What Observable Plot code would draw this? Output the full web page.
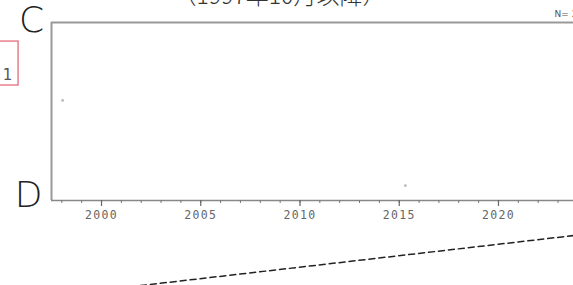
<!DOCTYPE html>
<html>
<head>
<meta charset="utf-8">
<script src="https://cdn.jsdelivr.net/npm/d3@7"></script>
<script src="https://cdn.jsdelivr.net/npm/@observablehq/plot@0.6"></script>
<style>
  html, body { margin: 0; padding: 0; background: #fff; overflow: hidden; }
  #chart svg { display: block; }
  #chart svg g[aria-label="x-axis tick label"] text { letter-spacing: 1.3px; }
</style>
</head>
<body>
<div id="chart"></div>
<script>
// ---- data ----
const titleText = "（1997年10月以降）";
const countText = "N= 25";
const topLabel = "C";
const bottomLabel = "D";
const boxLabel = "1";

const xDomain = [1997.48, 2023.78];
const yDomain = [0, 100];

const majorYears = [2000, 2005, 2010, 2015, 2020];
const minorYears = [1998, 1999, 2000, 2001, 2002, 2003, 2004, 2005, 2006, 2007, 2008, 2009, 2010, 2011, 2012, 2013, 2014, 2015, 2016, 2017, 2018, 2019, 2020, 2021, 2022, 2023];

const pointYears = [1998.04, 2015.31];
const pointValues = [56.2, 8.4];

const leaderYears = [2001.96, 2023.78];
const leaderValues = [-47.8, -19.7];

const boxYears = [1994.6, 1995.82];
const boxValues = [64.6, 89.3];

const points = pointYears.map((x, i) => ({x, y: pointValues[i]}));
const leader = leaderYears.map((x, i) => ({x, y: leaderValues[i]}));
const box = [{x1: boxYears[0], x2: boxYears[1], y1: boxValues[0], y2: boxValues[1]}];

const chart = Plot.plot({
  width: 573,
  height: 285,
  marginLeft: 51,
  marginRight: 0,
  marginTop: 22,
  marginBottom: 85,
  style: {background: "#fff", overflow: "hidden"},
  x: {domain: xDomain, axis: null},
  y: {domain: yDomain, axis: null},
  marks: [
    // frame lines
    Plot.ruleX([xDomain[0]], {y1: yDomain[0], y2: yDomain[1], stroke: "#999", strokeWidth: 2}),
    Plot.ruleY([yDomain[1]], {stroke: "#999", strokeWidth: 2}),
    Plot.ruleY([yDomain[0]], {stroke: "#888", strokeWidth: 1.5}),
    // minor ticks
    Plot.axisX(minorYears, {tickSize: 3, tickFormat: () => "", stroke: "#777", strokeWidth: 1}),
    // major ticks + labels
    Plot.axisX(majorYears, {
      tickSize: 6, tickPadding: 4, stroke: "#666", strokeWidth: 1.2,
      tickFormat: d => String(d), fill: "#666",
      fontSize: 11.5, fontFamily: "DejaVu Sans Mono"
    }),
    // data points
    Plot.dot(points, {x: "x", y: "y", r: 1.4, fill: "#b8b8b8", stroke: null}),
    // leader dashed line
    Plot.line(leader, {x: "x", y: "y", stroke: "#222", strokeWidth: 1.5, strokeDasharray: "6,4", clip: false}),
    // red box
    Plot.rect(box, {x1: "x1", x2: "x2", y1: "y1", y2: "y2", fill: "none", stroke: "#e06070", strokeWidth: 1.2, clip: false}),
    Plot.text([boxLabel], {x: () => boxYears[1], y: () => boxValues[0], dx: -11, dy: -10, text: d => d, textAnchor: "middle", lineAnchor: "middle", fill: "#555", fontSize: 15, fontFamily: "DejaVu Sans"}),
    // C and D labels
    Plot.text([topLabel], {frameAnchor: "top-left", dx: -20, dy: -2, text: d => d, textAnchor: "middle", lineAnchor: "middle", fontSize: 36, fontWeight: 200, fontFamily: "DejaVu Sans", fill: "#222"}),
    Plot.text([bottomLabel], {frameAnchor: "bottom-left", dx: -23, dy: -5, text: d => d, textAnchor: "middle", lineAnchor: "middle", fontSize: 36, fontWeight: 200, fontFamily: "DejaVu Sans", fill: "#222"}),
    // title (cut off at the top)
    Plot.text([titleText], {frameAnchor: "top", dx: -33, dy: -19, text: d => d, textAnchor: "middle", lineAnchor: "bottom", fontSize: 23, fontWeight: 300, fontFamily: "Noto Sans CJK JP", fill: "#333"}),
    // N= count
    Plot.text([countText], {frameAnchor: "top-right", dx: -19, dy: -8, text: d => d, textAnchor: "start", lineAnchor: "middle", fontSize: 9, fontFamily: "DejaVu Sans", fill: "#555"})
  ]
});
document.getElementById("chart").appendChild(chart);
</script>
</body>
</html>
